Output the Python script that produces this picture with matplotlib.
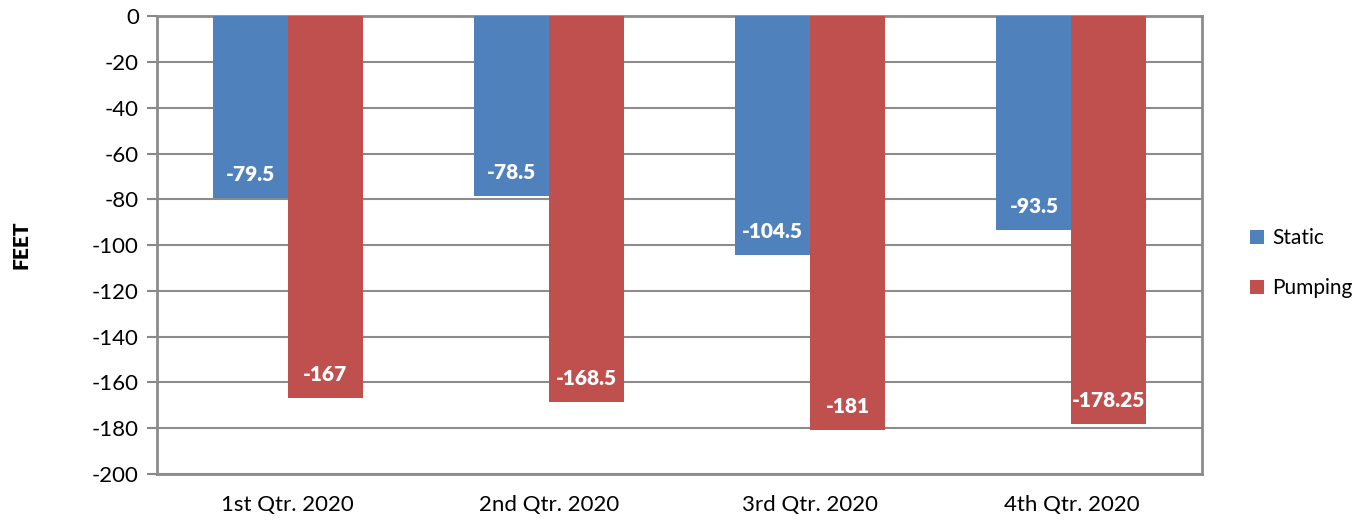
import numpy as np
import matplotlib
matplotlib.use("Agg")
import matplotlib.pyplot as plt

quarters = ["1st Qtr. 2020", "2nd Qtr. 2020", "3rd Qtr. 2020", "4th Qtr. 2020"]
static = [-79.5, -78.5, -104.5, -93.5]
pumping = [-167, -168.5, -181, -178.25]
static_labels = ["-79.5", "-78.5", "-104.5", "-93.5"]
pumping_labels = ["-167", "-168.5", "-181", "-178.25"]

plt.rcParams['font.family'] = ['Lato', 'DejaVu Sans']
plt.rcParams['axes.unicode_minus'] = False

fig = plt.figure(figsize=(13.66, 5.22), dpi=100)
ax = fig.add_axes([0.1149, 0.092, 0.7651, 0.877])

x = np.arange(len(quarters))
w = 0.287
b1 = ax.bar(x - w / 2, static, w, color="#4F81BD", label="Static", zorder=3)
b2 = ax.bar(x + w / 2, pumping, w, color="#C0504D", label="Pumping", zorder=3)

for bars, labs in ((b1, static_labels), (b2, pumping_labels)):
    for r, t in zip(bars, labs):
        ax.annotate(t, (r.get_x() + r.get_width() / 2, r.get_height()),
                    xytext=(0, 17), textcoords="offset points",
                    ha="center", va="center", color="white",
                    fontsize=15, fontweight="heavy", zorder=4)

ax.set_xlim(-0.5, 3.5)
ax.set_ylim(-200, 0)
ax.set_yticks(np.arange(-200, 1, 20))
ax.set_xticks(x)
ax.set_xticklabels(quarters)
ax.tick_params(axis="x", length=0, pad=15, labelsize=16)
ax.tick_params(axis="y", length=7, width=1.5, color="#888888", pad=6, labelsize=16)
ax.grid(axis="y", color="#8c8c8c", linewidth=1.5, zorder=0)
for s in ax.spines.values():
    s.set_color("#8c8c8c")
    s.set_linewidth(2)

ax.set_ylabel("FEET", fontsize=15, fontweight="heavy", labelpad=44)

ax.legend(loc="center left", bbox_to_anchor=(1.028, 0.46), frameon=False,
          fontsize=15, handlelength=0.65, handleheight=0.65, handletextpad=0.4,
          labelspacing=1.45)

fig.savefig("out.png", dpi=100)
